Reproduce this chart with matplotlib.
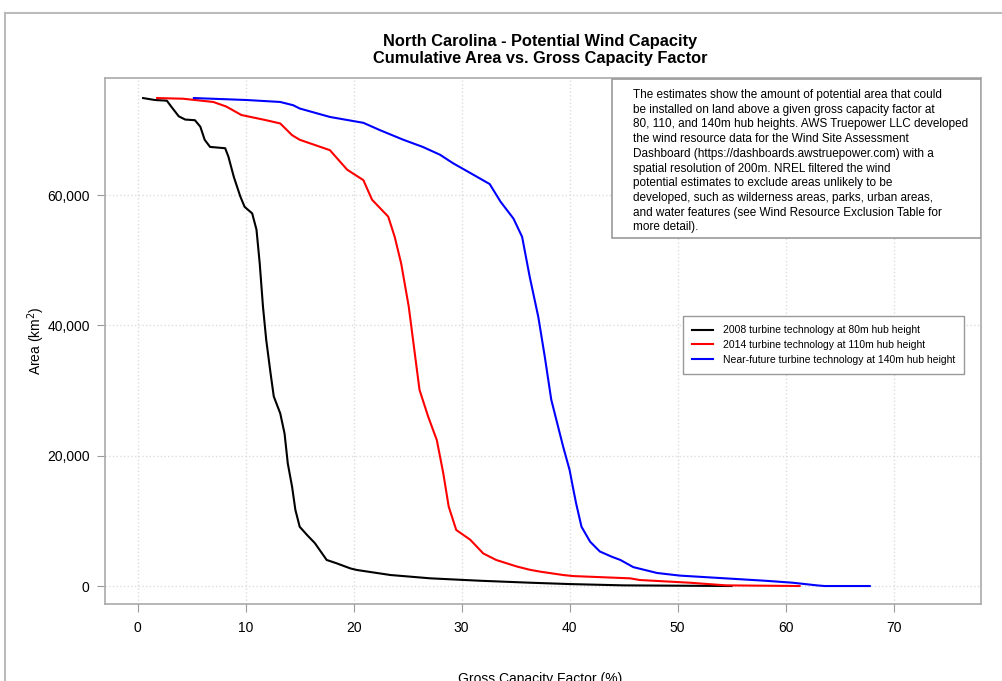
import numpy as np
import matplotlib
matplotlib.use('Agg')
import matplotlib.pyplot as plt
from matplotlib.lines import Line2D
from matplotlib.patches import Rectangle
from matplotlib.ticker import StrMethodFormatter

plt.rcParams['font.family'] = ['Liberation Sans', 'DejaVu Sans']

# Curvas (fator de capacidade %, área km2)
x_80m = [0.5, 1.6, 2.7, 3.1, 3.8, 4.4, 5.3, 5.8, 6.2, 6.7, 8.1, 8.4, 8.9, 9.5, 9.9, 10.6,
         11.0, 11.3, 11.6, 11.9, 12.3, 12.6, 13.2, 13.6, 13.9, 14.3, 14.6, 15.0, 15.7, 16.4,
         17.5, 18.4, 19.7, 20.3, 23.4, 27.1, 31.7, 36.3, 40.0, 45.0, 50.0, 55.0]
y_80m = [74900, 74600, 74500, 73600, 72100, 71600, 71500, 70500, 68500, 67400, 67200, 65900,
         62800, 59800, 58200, 57200, 54700, 49500, 42900, 37800, 32700, 29100, 26500, 23400,
         18800, 15200, 11700, 9100, 7800, 6600, 4000, 3500, 2700, 2460, 1690, 1180, 810, 510,
         300, 100, 50, 0]

x_110m = [1.8, 4.2, 7.0, 8.2, 9.6, 11.9, 13.2, 14.3, 15.0, 17.8, 19.4, 20.9, 21.7, 23.2, 23.8,
          24.4, 25.1, 25.7, 26.1, 26.9, 27.7, 28.3, 28.8, 29.5, 30.8, 32.0, 33.2, 35.1, 36.3,
          37.3, 39.4, 40.3, 45.6, 46.5, 51.1, 54.5, 61.3]
y_110m = [74900, 74800, 74300, 73600, 72300, 71500, 71000, 69200, 68500, 66900, 63900, 62300,
          59300, 56700, 53600, 49500, 42900, 35200, 30100, 26000, 22400, 17300, 12200, 8600,
          7100, 5000, 4000, 3000, 2500, 2200, 1690, 1530, 1180, 920, 510, 100, 0]

x_140m = [5.2, 10.1, 13.2, 14.4, 15.0, 17.8, 20.9, 22.4, 24.6, 26.4, 28.0, 29.2, 30.8, 32.6,
          33.6, 34.8, 35.6, 36.3, 37.1, 37.7, 38.3, 39.4, 40.0, 40.3, 40.6, 41.1, 41.9, 42.8,
          43.9, 44.7, 45.9, 48.1, 50.2, 54.2, 58.2, 60.7, 62.9, 63.6, 67.8]
y_140m = [74900, 74600, 74300, 73800, 73300, 72000, 71100, 70000, 68500, 67400, 66200, 64900,
          63400, 61700, 59000, 56400, 53600, 47500, 41300, 35200, 28600, 21400, 17800, 15200,
          12700, 9100, 6800, 5300, 4500, 4000, 2900, 2000, 1600, 1200, 800, 500, 100, 0, 0]

labels = ['2008 turbine technology at 80m hub height',
          '2014 turbine technology at 110m hub height',
          'Near-future turbine technology at 140m hub height']

texto = ('The estimates show the amount of potential area that could\n'
         'be installed on land above a given gross capacity factor at\n'
         '80, 110, and 140m hub heights. AWS Truepower LLC developed\n'
         'the wind resource data for the Wind Site Assessment\n'
         'Dashboard (https://dashboards.awstruepower.com) with a\n'
         'spatial resolution of 200m. NREL filtered the wind\n'
         'potential estimates to exclude areas unlikely to be\n'
         'developed, such as wilderness areas, parks, urban areas,\n'
         'and water features (see Wind Resource Exclusion Table for\n'
         'more detail).')

fig = plt.figure(figsize=(10.02, 6.81), dpi=100)
ax = fig.add_axes([105/1002, 1 - 604/681, 876/1002, 526/681])

ax.plot(x_80m, y_80m, color='black', lw=1.5, label=labels[0])
ax.plot(x_110m, y_110m, color='#ff0000', lw=1.5, label=labels[1])
ax.plot(x_140m, y_140m, color='#0000ff', lw=1.5, label=labels[2])

ax.set_xlim(-3.03, 78.1)
ax.set_ylim(-2760, 77980)
ax.set_xticks(np.arange(0, 80, 10))
ax.set_yticks([0, 20000, 40000, 60000])
ax.yaxis.set_major_formatter(StrMethodFormatter('{x:,.0f}'))
ax.grid(True, color='#dddddd', linestyle=':', lw=1)
ax.set_axisbelow(True)

for s in ax.spines.values():
    s.set_color('#aaaaaa')
    s.set_linewidth(1.2)
ax.tick_params(axis='both', direction='out', length=6, color='#999999', labelsize=10)
ax.tick_params(axis='x', pad=6)
ax.tick_params(axis='y', pad=5)

ax.set_ylabel('Area (km$^2$)', fontsize=10)
ax.yaxis.set_label_coords(-0.066, 0.5)
ax.set_xlabel('Gross Capacity Factor (%)', fontsize=10)
ax.xaxis.set_label_coords(0.497, -0.13)

# caixa de texto
caixa = Rectangle((0.5788, 0.6958), 0.4212, 0.3023, transform=ax.transAxes,
                  facecolor='white', edgecolor='#999999', lw=1.2, zorder=3)
ax.add_patch(caixa)
ax.text(0.6027, 0.979, texto, transform=ax.transAxes, fontsize=8.5, va='top', ha='left',
        linespacing=1.3, zorder=4)

leg = ax.legend(loc='upper left', bbox_to_anchor=(0.6598, 0.5475), borderaxespad=0,
                fontsize=7.5, fancybox=False, framealpha=1, edgecolor='#999999',
                handlelength=2.0, handletextpad=0.9, labelspacing=0.45, borderpad=0.9)
leg.get_frame().set_linewidth(1.0)

fig.text(540/1002, 1 - 50/681,
         'North Carolina - Potential Wind Capacity\nCumulative Area vs. Gross Capacity Factor',
         ha='center', va='center', fontsize=11.8, fontweight='bold', linespacing=1.1)

# moldura da figura
fig.add_artist(Line2D([5/1002, 1], [1 - 13/681, 1 - 13/681], color='#bbbbbb', lw=1.5))
fig.add_artist(Line2D([5/1002, 5/1002], [0, 1 - 13/681], color='#bbbbbb', lw=1.5))

fig.savefig('out.png', dpi=100)
